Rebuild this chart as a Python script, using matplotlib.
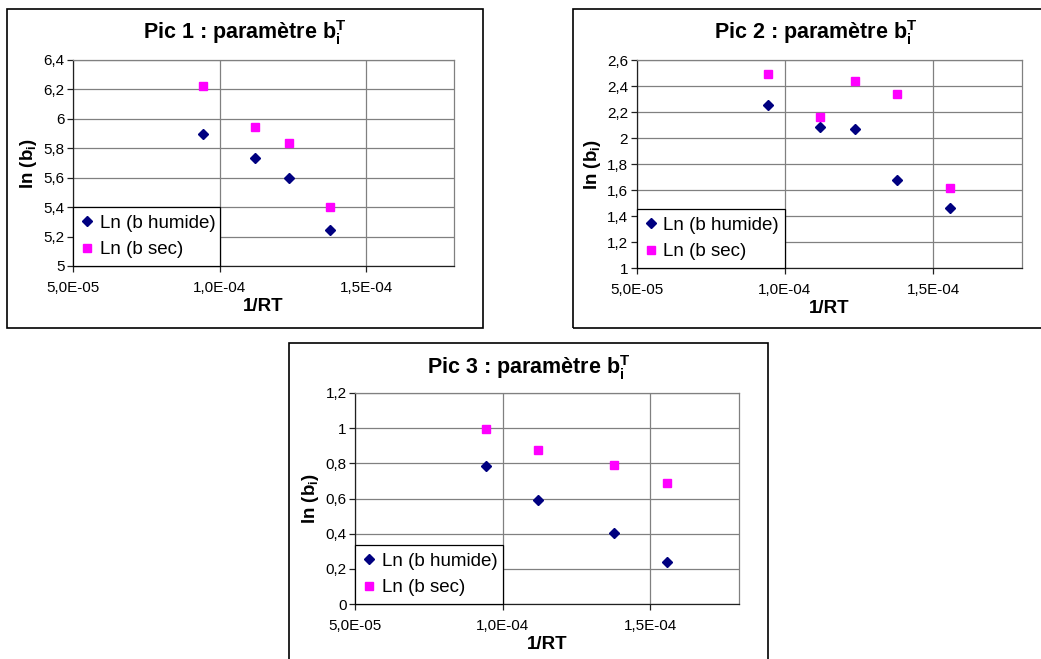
import matplotlib
matplotlib.use("Agg")
import matplotlib.pyplot as plt
from matplotlib.patches import Rectangle
from matplotlib.ticker import FixedLocator, FuncFormatter

plt.rcParams['font.family'] = ['Liberation Sans', 'DejaVu Sans']
plt.rcParams['mathtext.fontset'] = 'custom'
plt.rcParams['mathtext.rm'] = 'Liberation Sans'
plt.rcParams['mathtext.bf'] = 'Liberation Sans:bold'
plt.rcParams['mathtext.it'] = 'Liberation Sans:italic'

# ---- data ----
x_pic1 = [9.45e-5, 1.12e-4, 1.238e-4, 1.378e-4]
humide_pic1 = [5.90, 5.735, 5.60, 5.245]
sec_pic1 = [6.223, 5.946, 5.833, 5.404]

x_pic2 = [9.45e-5, 1.12e-4, 1.238e-4, 1.378e-4, 1.556e-4]
humide_pic2 = [2.256, 2.084, 2.071, 1.678, 1.46]
sec_pic2 = [2.495, 2.161, 2.436, 2.34, 1.616]

x_pic3 = [9.45e-5, 1.12e-4, 1.378e-4, 1.556e-4]
humide_pic3 = [0.785, 0.59, 0.401, 0.238]
sec_pic3 = [0.995, 0.875, 0.789, 0.687]

titles = ["Pic 1", "Pic 2", "Pic 3"]
series_labels = ["Ln (b humide)", "Ln (b sec)"]
x_ticks = [5e-5, 1e-4, 1.5e-4]
x_lim = (5e-5, 1.8e-4)
y_ticks_pic1 = [5, 5.2, 5.4, 5.6, 5.8, 6, 6.2, 6.4]
y_ticks_pic2 = [1, 1.2, 1.4, 1.6, 1.8, 2, 2.2, 2.4, 2.6]
y_ticks_pic3 = [0, 0.2, 0.4, 0.6, 0.8, 1, 1.2]

W, H = 1041, 659
fig = plt.figure(figsize=(W / 100, H / 100), dpi=100)
fig.patch.set_facecolor('white')


def px_rect(l, t, r, b):
    return [l / W, 1 - b / H, (r - l) / W, (b - t) / H]


def frame(l, t, r, b):
    fig.add_artist(Rectangle((l / W, 1 - b / H), (r - l) / W, (b - t) / H,
                             transform=fig.transFigure, fill=False,
                             edgecolor='black', linewidth=1.2, zorder=0))


def panel(axpos, framepos, title, xs, hum, sec, yticks, title_y):
    frame(*framepos)
    ax = fig.add_axes(px_rect(*axpos))
    ax.set_xlim(*x_lim)
    ax.set_ylim(yticks[0], yticks[-1])
    ax.xaxis.set_major_locator(FixedLocator(x_ticks))
    ax.yaxis.set_major_locator(FixedLocator(yticks))
    ax.xaxis.set_major_formatter(FuncFormatter(lambda v, p: f"{v:.1E}".replace('.', ',')))
    ax.yaxis.set_major_formatter(FuncFormatter(lambda v, p: f"{v:g}".replace('.', ',')))
    ax.grid(True, color='#808080', linewidth=0.9, zorder=0)
    ax.set_axisbelow(True)
    for s in ['top', 'right']:
        ax.spines[s].set_color('#808080')
        ax.spines[s].set_linewidth(0.9)
    for s in ['left', 'bottom']:
        ax.spines[s].set_color('#202020')
        ax.spines[s].set_linewidth(0.9)
    ax.tick_params(direction='out', length=4, width=0.9, color='#202020',
                   labelsize=11, pad=2)
    ax.tick_params(axis='x', pad=7)
    ax.plot(xs, hum, linestyle='none', marker='D', markersize=5.2,
            color='#000080', label=series_labels[0], zorder=3)
    ax.plot(xs, sec, linestyle='none', marker='s', markersize=6,
            color='#FF00FF', label=series_labels[1], zorder=3)
    ax.set_xlabel('1/RT', fontsize=13.5, fontweight='bold', labelpad=2)
    ax.set_ylabel(r'ln ($\mathbf{b}_{\mathbf{i}}$)', fontsize=13.5,
                  fontweight='bold', labelpad=3)
    leg = ax.legend(loc='lower left', bbox_to_anchor=(0, 0, 0.3846, 0.3),
                    mode='expand', borderaxespad=0, fontsize=13.5,
                    frameon=True, fancybox=False, handlelength=0.7,
                    handletextpad=0.3, borderpad=0.42, labelspacing=0.5,
                    markerscale=0.9)
    leg.get_frame().set_edgecolor('black')
    leg.get_frame().set_linewidth(0.9)
    leg.get_frame().set_alpha(1)
    leg.set_zorder(5)
    cx = (framepos[0] + framepos[2]) / 2
    fig.text(cx / W, 1 - title_y / H,
             title + r' : paramètre $\mathbf{b}_{\mathbf{i}}^{\mathbf{T}}$',
             ha='center', va='center', fontsize=15.5, fontweight='bold')
    return ax


panel((73, 60, 454, 266), (7, 9, 483, 328), titles[0], x_pic1, humide_pic1,
      sec_pic1, y_ticks_pic1, 33)
panel((636.5, 60, 1022, 268), (573, 9, 1059, 328), titles[1], x_pic2,
      humide_pic2, sec_pic2, y_ticks_pic2, 33)
panel((355, 393, 739, 604), (289, 343, 768, 680), titles[2], x_pic3,
      humide_pic3, sec_pic3, y_ticks_pic3, 368)

fig.savefig('out.png', dpi=100)
